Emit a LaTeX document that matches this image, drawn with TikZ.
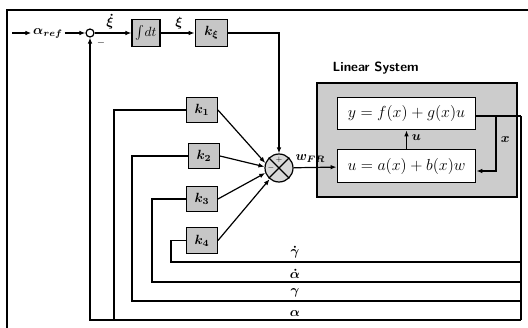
\documentclass[tikz,border=0pt]{standalone}
\usepackage{amsmath}
\usetikzlibrary{arrows.meta}
\begin{document}
\begin{tikzpicture}[x=0.75pt,y=-0.75pt,
  line width=0.9pt,
  arr/.style={-{Latex[length=4.5pt,width=3.5pt]}},
  blk/.style={draw, fill=gray!45, inner sep=0pt, minimum width=23pt, minimum height=19pt, font=\normalsize},
  eqbox/.style={draw, fill=white, inner sep=0pt, minimum width=104pt, minimum height=24.5pt, font=\large},
  lbl/.style={inner sep=1pt, font=\normalsize}]
\useasboundingbox (0,0) rectangle (528,328);
% frame
\draw[line width=1pt] (7,328) -- (7,10) -- (528,10);
% top path
\coordinate (in) at (12,33);
\node[lbl] (aref) at (48,33) {$\boldsymbol{\alpha_{ref}}$};
\node[draw, circle, inner sep=0pt, minimum size=6pt] (s1) at (90,33) {};
\node[blk, minimum width=21pt, minimum height=20pt] (int) at (146,33) {$\int\! dt$};
\node[blk, minimum width=24.5pt, minimum height=20pt] (kxi) at (211.5,33) {$\boldsymbol{k_\xi}$};
\node[font=\scriptsize, inner sep=0pt] (minus) at (101,43) {$-$};
\draw[arr] (in) -- (aref);
\draw[arr] (aref) -- (s1);
\draw[arr] (s1) -- (int);
\node[lbl, anchor=south] (xid) at (110,31) {$\boldsymbol{\dot{\xi}}$};
\draw[arr] (int) -- (kxi);
\node[lbl, anchor=south] (xil) at (179,31) {$\boldsymbol{\xi}$};
% multiplier / summing junction
\node[draw, circle, fill=gray!30, inner sep=0pt, minimum size=21pt] (m) at (279,168) {};
\draw (m.45) -- (m.225) (m.135) -- (m.315);
\node[font=\tiny, inner sep=0pt] (mp) at (279,160) {$+$};
\node[font=\tiny, inner sep=0pt] (mm) at (271,168) {$-$};
\coordinate (c1) at (279,33);
\draw[arr] (kxi) -- (c1) -- (m);
% gains
\node[blk] (k1) at (202,110) {$\boldsymbol{k_1}$};
\node[blk] (k2) at (204,156) {$\boldsymbol{k_2}$};
\node[blk] (k3) at (202,199) {$\boldsymbol{k_3}$};
\node[blk] (k4) at (202,240.5) {$\boldsymbol{k_4}$};
\draw[arr] (k1.east) -- (m.160);
\draw[arr] (k2.east) -- (m.175);
\draw[arr] (k3.east) -- (m.200);
\draw[arr] (k4.east) -- (m.230);
% linear system
\node[draw, fill=gray!40, minimum width=150pt, minimum height=85.5pt, inner sep=0pt] (ls) at (417,140) {};
\node[font=\sffamily\bfseries, anchor=south west, inner sep=0pt] (lst) at (332,75) {Linear System};
\node[eqbox] (b1) at (406.5,113.5) {$y = f(x) + g(x)u$};
\node[eqbox] (b2) at (406.5,166) {$u = a(x) + b(x)w$};
\draw[arr] (m) -- (b2);
\node[lbl, anchor=south west, inner sep=0pt] (wfr) at (295,163) {$\boldsymbol{w_{FR}}$};
\draw[arr] (b2) -- (b1);
\node[lbl, anchor=west] (ul) at (410,138) {$\boldsymbol{u}$};
\coordinate (o1) at (521,116);
\coordinate (br) at (496,116);
\coordinate (br2) at (496,171);
\draw (b1.east |- o1) -- (o1);
\draw[arr] (br) -- (br2) -- (b2.east |- br2);
\node[lbl, anchor=west] (xl) at (499,140) {$\boldsymbol{x}$};
% feedback lines
\coordinate (rb) at (521,320);
\draw (o1) -- (rb);
\coordinate (a1) at (90,320);
\coordinate (a2) at (114,320);
\draw[arr] (rb) -- (a1) -- (s1);
\draw (k1.west) -| (a2);
\coordinate (g1) at (521,301);
\draw (g1) -- (132,301) |- (k2.west);
\coordinate (ad1) at (521,282);
\draw (ad1) -- (152,282) |- (k3.west);
\coordinate (gd1) at (521,262);
\draw (gd1) -- (171,262) |- (k4.west);
\node[lbl, anchor=south] (la) at (295,318) {$\boldsymbol{\alpha}$};
\node[lbl, anchor=south] (lg) at (295,299) {$\boldsymbol{\gamma}$};
\node[lbl, anchor=south] (lad) at (295,280) {$\boldsymbol{\dot{\alpha}}$};
\node[lbl, anchor=south] (lgd) at (295,260) {$\boldsymbol{\dot{\gamma}}$};
\end{tikzpicture}
\end{document}
